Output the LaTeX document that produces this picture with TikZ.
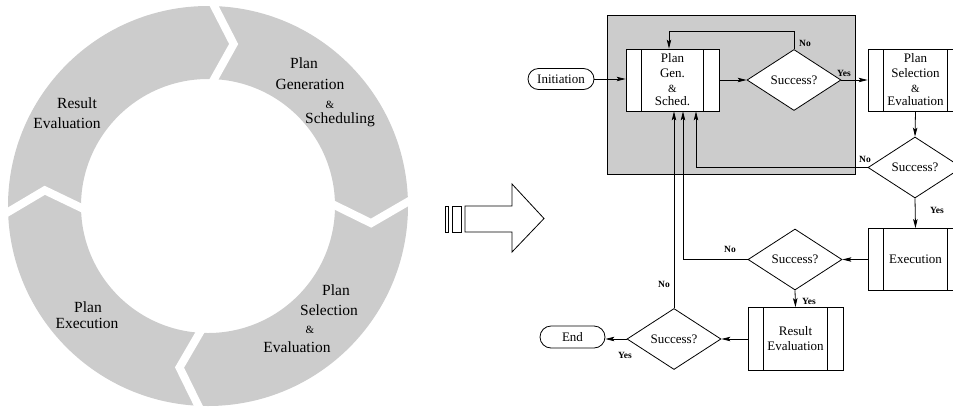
\documentclass[tikz,border=0pt]{standalone}
\usepackage{fontspec}
\setmainfont{Liberation Serif}
\usetikzlibrary{shapes.geometric,shapes.misc,arrows.meta,calc}
\definecolor{ringgrey}{RGB}{204,204,204}
\newcommand\ampsize{\fontsize{11}{12}\selectfont}
\begin{document}
\begin{tikzpicture}[x=1pt,y=-1pt,
  arr/.style={draw, line width=0.8pt, -{Stealth[length=9pt,width=4.5pt,inset=2pt]}},
  flowtext/.style={font=\fontsize{13}{15}\selectfont},
  ctext/.style={font=\fontsize{15.5}{18}\selectfont, anchor=base, inner sep=0pt},
  camp/.style={font=\fontsize{11}{13}\selectfont, anchor=base, inner sep=0pt},
  lbl/.style={font=\fontsize{9.5}{11}\selectfont\bfseries, inner sep=0pt},
  procbox/.style={draw, fill=white, line width=0.8pt, minimum width=#1,
    minimum height=62pt, inner sep=0pt, align=center, flowtext,
    path picture={\draw[line width=0.8pt]
      ([xshift=15.5pt]path picture bounding box.north west) --
      ([xshift=15.5pt]path picture bounding box.south west)
      ([xshift=-15.5pt]path picture bounding box.north east) --
      ([xshift=-15.5pt]path picture bounding box.south east);}},
  decision/.style={diamond, draw, fill=white, line width=0.8pt, aspect=1.54,
    minimum width=94pt, minimum height=61pt, inner sep=0pt, flowtext},
  terminal/.style={rounded rectangle, draw, fill=white, line width=0.8pt,
    minimum width=66pt, minimum height=21pt, inner sep=0pt, flowtext}
]
\useasboundingbox (0,0) rectangle (953,408);

% ---- cycle ring ----
\coordinate (c) at (208,206);
\fill[ringgrey, even odd rule] (c) circle[radius=200pt] (c) circle[radius=127pt];
\foreach \a in {90,3,269,183.5}{
  \draw[white, line width=8pt]
    ($(c)+(\a:212pt)$) -- ($(c)+(\a-9:164pt)$) -- ($(c)+(\a:116pt)$);
}
\node[ctext] (pg1) at (304,68) {Plan};
\node[ctext] (pg2) at (310,89) {Generation};
\node[camp]  (pg3) at (330,108) {\&};
\node[ctext] (pg4) at (340,123.5) {Scheduling};
\node[ctext] (ps1) at (336,295) {Plan};
\node[ctext] (ps2) at (329,315) {Selection};
\node[camp]  (ps3) at (310,333) {\&};
\node[ctext] (ps4) at (297,352) {Evaluation};
\node[ctext] (pe1) at (88,312) {Plan};
\node[ctext] (pe2) at (87,328) {Execution};
\node[ctext] (re1) at (77,108) {Result};
\node[ctext] (re2) at (67,128) {Evaluation};

% ---- hollow arrow ----
\draw[line width=0.8pt] (445,206) rectangle (448,232);
\draw[line width=0.8pt] (452,206) rectangle (461,232);
\draw[line width=0.8pt] (465,206) -- (512,206) -- (512,184) -- (544,218.5)
  -- (512,252) -- (512,232) -- (465,232) -- cycle;

% ---- flowchart ----
\node[draw, fill=ringgrey, line width=0.8pt, minimum width=248pt,
  minimum height=159pt, inner sep=0pt] (panel) at (731,94.5) {};

\node[terminal] (init) at (561,79) {Initiation};
\node[procbox=93pt] (pg) at (672.5,80)
  {Plan\\Gen.\\{\ampsize\&}\\[-2pt]Sched.};
\node[decision] (d1) at (794,80) {Success?};
\node[procbox=95pt] (pse) at (915.5,80)
  {Plan\\Selection\\{\ampsize\&}\\[-2pt]Evaluation};
\node[decision] (d2) at (915,167.5) {Success?};
\node[procbox=95pt] (exe) at (915.5,259.5) {Execution};
\node[decision] (d3) at (795,259.5) {Success?};
\node[procbox=95pt, minimum height=63pt] (rev) at (795.5,339) {Result\\Evaluation};
\node[decision] (d4) at (674,339) {Success?};
\node[terminal, minimum width=65pt, minimum height=22pt] (end) at (572.5,337) {End};

\draw[arr] (init.east) -- (init.east -| pg.west);
\draw[arr] (pg.east) -- (d1.west);
\draw[arr] (d1.north) -- ++(0,-17.5) -| ([xshift=-3.5pt]pg.north);
\draw[arr] (d1.east) -- (pse.west);
\draw[arr] (pse.south) -- (d2.north);
\draw[arr] (d2.west) -| ([xshift=23.5pt]pg.south);
\draw[arr] (d2.south) -- (exe.north);
\draw[arr] (exe.west) -- (d3.east);
\draw[arr] (d3.west) -| ([xshift=10.5pt]pg.south);
\draw[arr] (d3.south) -- (rev.north);
\draw[arr] (rev.west) -- (d4.east);
\draw[arr] (d4.north) -- (d4.north |- pg.south);
\draw[arr] (d4.west) -- (d4.west -| end.east);

\node[lbl] (n1) at (805,43) {No};
\node[lbl] (y1) at (844,73) {Yes};
\node[lbl] (n2) at (865,159) {No};
\node[lbl] (y2) at (937,210) {Yes};
\node[lbl] (n3) at (730,249) {No};
\node[lbl] (y3) at (809,301) {Yes};
\node[lbl] (n4) at (664,284) {No};
\node[lbl] (y4) at (625,355) {Yes};
\end{tikzpicture}
\end{document}
